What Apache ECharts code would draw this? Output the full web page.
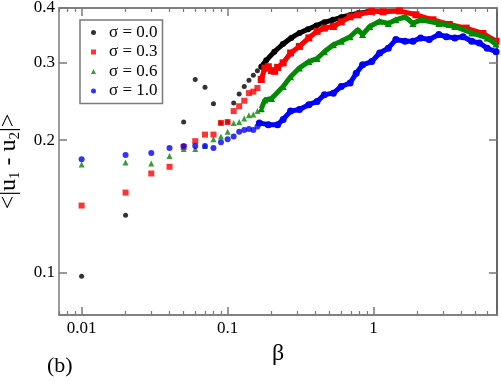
<!DOCTYPE html>
<html>
<head>
<meta charset="utf-8">
<script src="https://cdn.jsdelivr.net/npm/echarts@6/dist/echarts.min.js"></script>
<style>
  html, body { margin: 0; padding: 0; background: #fff; }
  #chart { width: 501px; height: 382px; }
</style>
</head>
<body>
<div id="chart"></div>
<script>
// beta values, sparse part (0.01 .. 0.16)
const betaLow = [0.01, 0.02, 0.03, 0.04, 0.05, 0.06, 0.07, 0.08, 0.09, 0.1, 0.11, 0.12, 0.13, 0.14, 0.15, 0.16]
const s00Low = [0.098, 0.135, null, null, 0.220, 0.275, 0.264, 0.242, 0.219, 0.220, 0.243, 0.255, 0.265, 0.274, 0.281, 0.288]
const s03Low = [0.142, 0.152, 0.168, 0.174, 0.193, 0.199, 0.206, 0.206, 0.219, 0.220, 0.233, 0.239, 0.246, 0.256, 0.258, 0.263]
const s06Low = [0.176, 0.178, 0.177, 0.184, 0.191, 0.191, 0.194, 0.201, 0.204, 0.209, 0.219, 0.220, 0.224, 0.228, 0.229, 0.233]
const s10Low = [0.181, 0.185, 0.187, 0.192, 0.194, 0.194, 0.194, 0.192, 0.198, 0.201, 0.204, 0.209, 0.211, 0.212, 0.211, 0.215]

// dense part, points overlap into a band
const beta00High = [0.17, 0.184, 0.209, 0.239, 0.273, 0.311, 0.356, 0.405, 0.46, 0.526, 0.6, 0.685, 0.78, 0.9]
const s00High = [0.294, 0.304, 0.318, 0.331, 0.342, 0.351, 0.358, 0.365, 0.371, 0.376, 0.381, 0.385, 0.389, 0.391]

const beta03High = [0.17, 0.18, 0.19, 0.2, 0.21, 0.22, 0.24, 0.27, 0.31, 0.36, 0.41, 0.46, 0.53, 0.6, 0.69, 0.78, 0.97, 1.16, 1.5, 1.95, 2.55, 3.3, 4.3, 5.6, 6.9]
const s03High = [0.275, 0.292, 0.294, 0.288, 0.287, 0.293, 0.300, 0.316, 0.327, 0.342, 0.354, 0.360, 0.363, 0.372, 0.382, 0.386, 0.393, 0.392, 0.394, 0.386, 0.376, 0.367, 0.360, 0.350, 0.336]

const beta06High = [0.17, 0.18, 0.2, 0.24, 0.27, 0.31, 0.36, 0.41, 0.46, 0.53, 0.6, 0.69, 0.78, 0.84, 0.94, 1.1, 1.26, 1.42, 1.64, 1.86, 2.1, 2.8, 3.6, 4.7, 6.0, 6.9]
const s06High = [0.236, 0.247, 0.249, 0.265, 0.279, 0.292, 0.302, 0.307, 0.318, 0.330, 0.336, 0.344, 0.357, 0.348, 0.363, 0.373, 0.369, 0.376, 0.382, 0.369, 0.376, 0.369, 0.363, 0.351, 0.342, 0.331]

const beta10High = [0.165, 0.19, 0.22, 0.24, 0.27, 0.31, 0.36, 0.41, 0.46, 0.53, 0.6, 0.69, 0.76, 0.84, 0.97, 1.1, 1.26, 1.42, 1.64, 1.86, 2.1, 2.4, 2.8, 3.15, 3.6, 4.1, 4.7, 5.3, 6.0, 6.9]
const s10High = [0.219, 0.217, 0.217, 0.223, 0.233, 0.235, 0.241, 0.245, 0.254, 0.256, 0.265, 0.270, 0.284, 0.297, 0.302, 0.316, 0.324, 0.339, 0.336, 0.336, 0.342, 0.339, 0.348, 0.344, 0.342, 0.344, 0.336, 0.333, 0.324, 0.318]

const seriesNames = ['σ = 0.0', 'σ = 0.3', 'σ = 0.6', 'σ = 1.0']
const xMajor = [0.01, 0.1, 1]
const xMinor = [0.007, 0.008, 0.009, 0.02, 0.03, 0.04, 0.05, 0.06, 0.07, 0.08, 0.09, 0.2, 0.3, 0.4, 0.5, 0.6, 0.7, 0.8, 0.9, 2, 3, 4, 5, 6, 7]
const yMajor = [0.1, 0.2, 0.3, 0.4]

const lg = Math.log10
const pairs = (xs, ys) => xs.map((x, i) => [lg(x), ys[i] == null ? null : lg(ys[i])]).filter(p => p[1] !== null)
const fmt = v => String(parseFloat(Math.pow(10, v).toPrecision(3)))

const serif = 'Liberation Serif'
const frame = '#7a7a7a'
const colors = ['#000000', '#ff0000', '#008a00', '#0000ff']
const symbols = ['circle', 'rect', 'triangle', 'circle']
const sizes = [5, 6, 6, 6]

const xBase = {
  type: 'value',
  min: lg(0.007),
  max: lg(7),
  splitLine: { show: false },
  axisLine: { onZero: false, lineStyle: { color: frame, width: 1.5 } }
}
const yBase = {
  type: 'value',
  min: lg(0.08),
  max: lg(0.4),
  splitLine: { show: false },
  axisLine: { onZero: false, lineStyle: { color: frame, width: 1.5 } }
}

const chart = echarts.init(document.getElementById('chart'))

const lowSets = [s00Low, s03Low, s06Low, s10Low]
const highSets = [[beta00High, s00High], [beta03High, s03High], [beta06High, s06High], [beta10High, s10High]]

const series = []
lowSets.forEach((vals, i) => {
  series.push({
    name: seriesNames[i],
    type: 'scatter',
    data: pairs(betaLow, vals),
    symbol: symbols[i],
    symbolSize: sizes[i],
    itemStyle: { color: colors[i] },
    z: 2 + i
  })
  series.push({
    name: seriesNames[i],
    type: 'line',
    data: pairs(highSets[i][0], highSets[i][1]),
    symbol: symbols[i],
    symbolSize: sizes[i] + 1,
    showSymbol: true,
    lineStyle: { color: colors[i], width: 5 },
    itemStyle: { color: colors[i] },
    z: 2 + i
  })
})

chart.setOption({
  animation: false,
  backgroundColor: '#fff',
  grid: { left: 59, right: 4, top: 8, bottom: 67, containLabel: false, outerBoundsMode: 'none' },
  xAxis: [
    Object.assign({}, xBase, {
      position: 'bottom',
      name: 'β',
      nameLocation: 'middle',
      nameGap: 19,
      nameTextStyle: { fontFamily: serif, fontSize: 24, color: '#000' },
      axisTick: { inside: true, length: 8, lineStyle: { color: frame, width: 1.5 }, customValues: xMajor.map(lg) },
      axisLabel: { customValues: xMajor.map(lg), formatter: fmt, fontFamily: serif, fontSize: 17, color: '#000', margin: 5 }
    }),
    Object.assign({}, xBase, {
      position: 'bottom',
      axisTick: { inside: true, length: 4, lineStyle: { color: frame, width: 1.2 }, customValues: xMinor.map(lg) },
      axisLabel: { show: false }
    }),
    Object.assign({}, xBase, {
      position: 'top',
      axisTick: { inside: true, length: 8, lineStyle: { color: frame, width: 1.5 }, customValues: xMajor.map(lg) },
      axisLabel: { show: false }
    }),
    Object.assign({}, xBase, {
      position: 'top',
      axisTick: { inside: true, length: 4, lineStyle: { color: frame, width: 1.2 }, customValues: xMinor.map(lg) },
      axisLabel: { show: false }
    })
  ],
  yAxis: [
    Object.assign({}, yBase, {
      position: 'left',
      name: '<|u{s|1} - u{s|2}|>',
      nameLocation: 'middle',
      nameRotate: 90,
      nameGap: 28,
      nameTextStyle: {
        fontFamily: serif, fontSize: 24, color: '#000',
        rich: { s: { fontFamily: serif, fontSize: 15, color: '#000', padding: [14, 0, 0, 0] } }
      },
      axisTick: { inside: true, length: 8, lineStyle: { color: frame, width: 1.5 }, customValues: yMajor.map(lg) },
      axisLabel: { customValues: yMajor.map(lg), formatter: fmt, fontFamily: serif, fontSize: 17, color: '#000', margin: 4 }
    }),
    Object.assign({}, yBase, {
      position: 'right',
      axisLine: { onZero: false, lineStyle: { color: '#333', width: 1.5 } },
      axisTick: { inside: true, length: 8, lineStyle: { color: frame, width: 1.5 }, customValues: yMajor.map(lg) },
      axisLabel: { show: false }
    })
  ],
  legend: {
    orient: 'vertical',
    left: 80,
    top: 20,
    padding: [4, 5, 4, 11],
    itemGap: 2.5,
    itemWidth: 5,
    itemHeight: 5,
    borderColor: frame,
    borderWidth: 1.5,
    borderRadius: 0,
    backgroundColor: '#fff',
    selectedMode: false,
    data: seriesNames.map((n, i) => ({ name: n, icon: symbols[i] })),
    textStyle: { fontFamily: serif, fontSize: 17, lineHeight: 15, color: '#000', padding: [0, 0, 0, 8] }
  },
  graphic: [
    { type: 'text', left: 47, top: 355, style: { text: '(b)', fontFamily: serif, fontSize: 22, fill: '#000' } }
  ],
  series: series
})
</script>
</body>
</html>
